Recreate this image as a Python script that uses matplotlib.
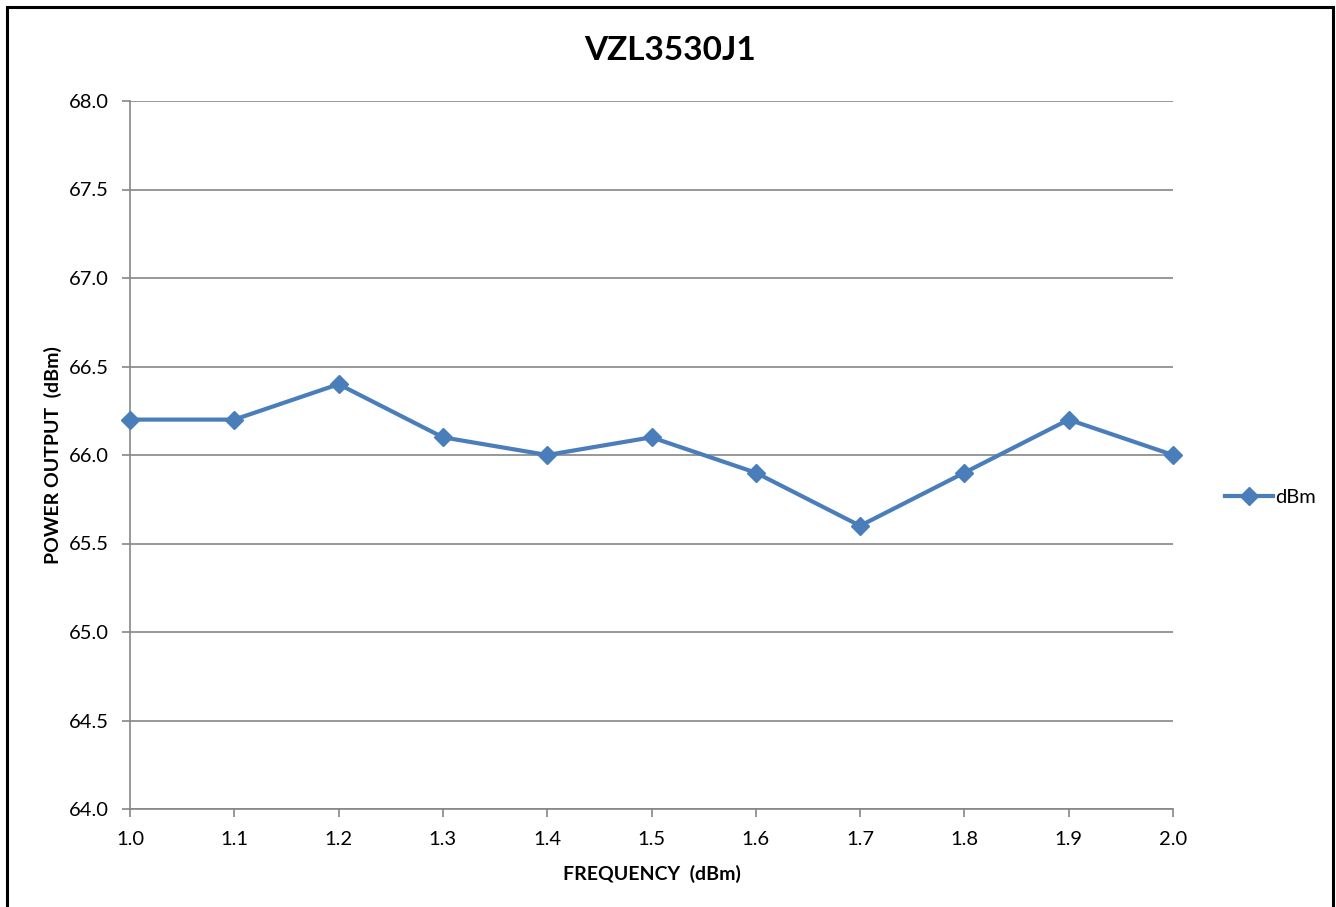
import matplotlib.pyplot as plt
from matplotlib.patches import Rectangle

# données
frequence = [1.0, 1.1, 1.2, 1.3, 1.4, 1.5, 1.6, 1.7, 1.8, 1.9, 2.0]
puissance = [66.2, 66.2, 66.4, 66.1, 66.0, 66.1, 65.9, 65.6, 65.9, 66.2, 66.0]
y_ticks = [64.0, 64.5, 65.0, 65.5, 66.0, 66.5, 67.0, 67.5, 68.0]

plt.rcParams['font.family'] = ['Lato', 'DejaVu Sans']

fig = plt.figure(figsize=(13.36, 9.07), dpi=100)
ax = fig.add_axes([130 / 1336, 1 - 809 / 907, (1173 - 130) / 1336, (809 - 101) / 907])

bleu = '#4A7EBB'
gris = '#868686'

ax.plot(frequence, puissance, color=bleu, linewidth=3, marker='D', markersize=9,
        label='dBm', clip_on=False, zorder=3)

ax.set_xlim(1.0, 2.0)
ax.set_ylim(64.0, 68.0)
ax.set_xticks(frequence)
ax.set_xticklabels([f'{v:.1f}' for v in frequence])
ax.set_yticks(y_ticks)
ax.set_yticklabels([f'{v:.1f}' for v in y_ticks])
ax.grid(axis='y', color=gris, linewidth=1.2)
ax.set_axisbelow(True)

for s in ['top', 'right']:
    ax.spines[s].set_visible(False)
for s in ['left', 'bottom']:
    ax.spines[s].set_color(gris)
    ax.spines[s].set_linewidth(1.2)
ax.tick_params(axis='both', colors=gris, labelcolor='black', labelsize=14.5, length=6, width=1.2)
ax.tick_params(axis='y', pad=9)
ax.tick_params(axis='x', pad=10)

# titre centré sur la figure
fig.text(670 / 1336, 1 - 50 / 907, 'VZL3530J1', fontsize=24, fontweight='bold',
         ha='center', va='center')
ax.set_xlabel('FREQUENCY  (dBm)', fontsize=14, fontweight='bold', labelpad=12)
ax.set_ylabel('POWER OUTPUT  (dBm)', fontsize=14, fontweight='bold', labelpad=5)

ax.legend(loc='center left', bbox_to_anchor=(1.042, 0.44), frameon=False, fontsize=14.5,
          handlelength=2.4, handletextpad=0.1, borderaxespad=0)

# cadre autour de la figure
fig.patches.append(Rectangle((7 / 1336, -0.01), (1333 - 7) / 1336, 1 - 7 / 907 + 0.01,
                             transform=fig.transFigure, fill=False, edgecolor='black',
                             linewidth=2.2))

fig.savefig('out.png', dpi=100)
